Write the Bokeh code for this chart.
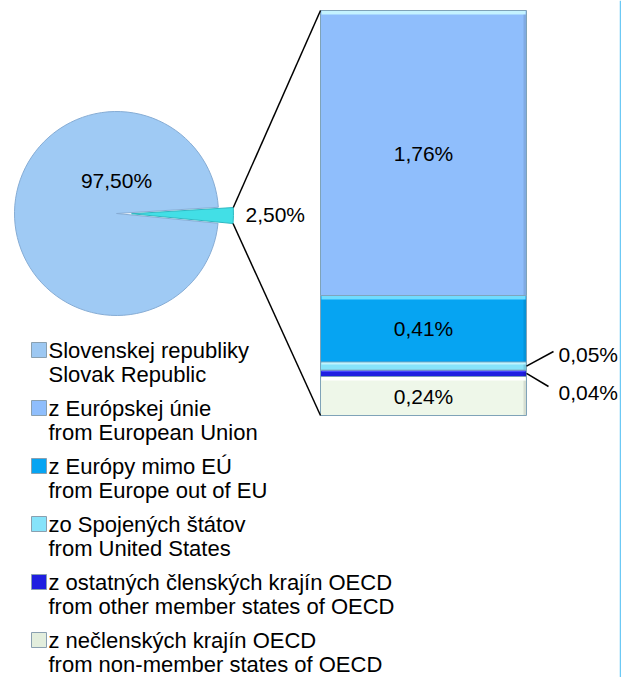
import math
from bokeh.plotting import figure
from bokeh.models import Range1d, ColumnDataSource
from bokeh.embed import file_html
from bokeh.resources import INLINE
from bokeh.core.properties import value

# ---------------- data ----------------
pie_names = ["Slovenskej republiky", "zo zahraničia"]
pie_values = [97.50, 2.50]
pie_labels = ["97,50%", "2,50%"]

bar_names = ["z nečlenských krajín OECD", "z ostatných členských krajín OECD",
             "zo Spojených štátov", "z Európy mimo EÚ", "z Európskej únie"]
bar_values = [0.24, 0.04, 0.05, 0.41, 1.76]
bar_labels = ["0,24%", "0,04%", "0,05%", "0,41%", "1,76%"]

legend_sk = ["Slovenskej republiky", "z Európskej únie", "z Európy mimo EÚ",
             "zo Spojených štátov", "z ostatných členských krajín OECD",
             "z nečlenských krajín OECD"]
legend_en = ["Slovak Republic", "from European Union", "from Europe out of EU",
             "from United States", "from other member states of OECD",
             "from non-member states of OECD"]

# ---------------- styles ----------------
FONT = value("Liberation Sans")
W, H = 621, 677


def PY(py):
    return H - py


pie_colors = ["#9fcaf4", "#42dfe6"]
pie_lines = ["#86acd4", "#2fb8c2"]
bar_colors = ["#eef7e9", "#1f1fe0", "#86e3fa", "#06a4f2", "#8fbefc"]
bar_hilite = ["#ffffff", "#4747ff", "#bff4ff", "#6fdcff", "#c4f3ff"]
legend_colors = ["#9dc8f2", "#8fbefc", "#06a4f2", "#86e3fa", "#1f1fe0", "#e3eedd"]

p = figure(width=W, height=H, x_range=Range1d(0, W), y_range=Range1d(0, H),
           output_backend="svg", toolbar_location=None, min_border=0,
           x_axis_type=None, y_axis_type=None)
p.grid.visible = False
p.outline_line_color = None
p.background_fill_color = "white"
p.border_fill_color = "white"

# ---------------- pie ----------------
cx, cy, r = 116, PY(213), 102
explode = 15
mid_angle = math.radians(-1.0)
span_small = 2 * math.pi * pie_values[1] / sum(pie_values)
s_start = mid_angle - span_small / 2
s_end = mid_angle + span_small / 2
big_start, big_end = s_end, s_start + 2 * math.pi

p.wedge(x=[cx], y=[cy], radius=r, start_angle=[big_start], end_angle=[big_end],
        fill_color=pie_colors[0], line_color=pie_lines[0], line_width=1)
scx = cx + explode * math.cos(mid_angle)
scy = cy + explode * math.sin(mid_angle)
p.wedge(x=[scx], y=[scy], radius=r, start_angle=[s_start], end_angle=[s_end],
        fill_color=pie_colors[1], line_color=pie_lines[1], line_width=1)

p.text(x=[cx], y=[PY(180)], text=[pie_labels[0]], text_font=FONT,
       text_font_size="21px", text_align="center", text_baseline="middle",
       text_color="black")
p.text(x=[245], y=[PY(214)], text=[pie_labels[1]], text_font=FONT,
       text_font_size="21px", text_align="left", text_baseline="middle",
       text_color="black")

# ---------------- stacked bar ----------------
bar_left, bar_right = 320, 526
bar_base = PY(415)
px_per_pct = 405 / sum(bar_values)

bottoms, tops = [], []
acc = 0.0
for v in bar_values:
    bottoms.append(bar_base + acc * px_per_pct)
    acc += v
    tops.append(bar_base + acc * px_per_pct)

src = ColumnDataSource(dict(left=[bar_left] * 5, right=[bar_right] * 5,
                            bottom=bottoms, top=tops, color=bar_colors))
p.quad(left="left", right="right", bottom="bottom", top="top", source=src,
       fill_color="color", line_color="#7fa3b8", line_width=1)
# bevel highlight on top of each segment
hb = [t - min(4, (t - b) * 0.3) for b, t in zip(bottoms, tops)]
p.quad(left=[bar_left + 1] * 5, right=[bar_right - 1] * 5, bottom=hb,
       top=[t - 0.5 for t in tops], fill_color=bar_hilite, line_color=None)
# dark right edge shading
p.quad(left=[bar_right - 3] * 5, right=[bar_right - 0.5] * 5,
       bottom=[b + 0.5 for b in bottoms], top=hb, fill_color="#000000",
       fill_alpha=0.10, line_color=None)

# labels inside bar
centers = [(b + t) / 2 for b, t in zip(bottoms, tops)]
inside = [0, 3, 4]
p.text(x=[(bar_left + bar_right) / 2] * 3, y=[centers[i] for i in inside],
       text=[bar_labels[i] for i in inside], text_font=FONT, text_font_size="21px",
       text_align="center", text_baseline="middle", text_color="black")

# callouts for the thin segments
call_pts = {2: (553, PY(351), 558, PY(354)), 1: (548, PY(386), 558, PY(392))}
for i, (lx, ly, tx, ty) in call_pts.items():
    p.line(x=[bar_right, lx], y=[centers[i], ly], line_color="black", line_width=1.5)
    p.text(x=[tx], y=[ty], text=[bar_labels[i]], text_font=FONT,
           text_font_size="21px", text_align="left", text_baseline="middle",
           text_color="black")

# connector lines between pie slice and bar
tip_low = (scx + r * math.cos(s_start), scy + r * math.sin(s_start))
tip_high = (scx + r * math.cos(s_end), scy + r * math.sin(s_end))
p.line(x=[tip_high[0], bar_left], y=[tip_high[1], tops[-1]], line_color="black",
       line_width=1.5)
p.line(x=[tip_low[0], bar_left], y=[tip_low[1], bottoms[0]], line_color="black",
       line_width=1.5)

# ---------------- legend ----------------
leg_x_marker = 31
leg_x_text = 48
first_y = 350
step = 58
line_gap = 24
for k in range(len(legend_sk)):
    y1 = first_y + k * step
    p.quad(left=[leg_x_marker], right=[leg_x_marker + 15], top=[PY(y1 - 8)],
           bottom=[PY(y1 + 7)], fill_color=legend_colors[k], line_color="#8aa0b0",
           line_width=1)
    p.text(x=[leg_x_text, leg_x_text], y=[PY(y1), PY(y1 + line_gap)],
           text=[legend_sk[k], legend_en[k]], text_font=FONT,
           text_font_size="22px", text_align="left", text_baseline="middle",
           text_color="black")

# right border line of the chart area
p.line(x=[W - 1, W - 1], y=[0, H], line_color="#6cc9f5", line_width=1.5)

open("out.html", "w").write(file_html(p, INLINE))
